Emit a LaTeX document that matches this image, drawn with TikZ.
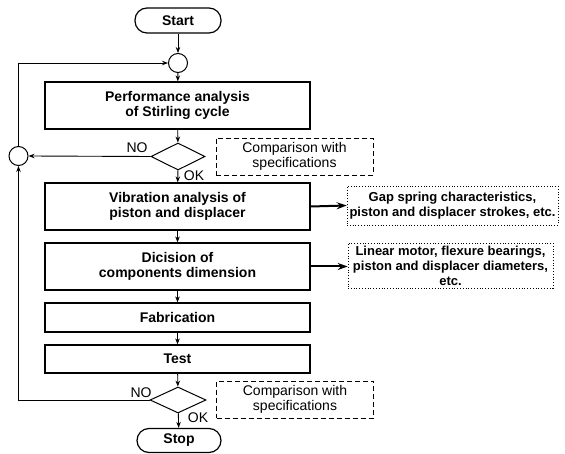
\documentclass[tikz,border=0pt]{standalone}
\usepackage{fontspec}
\setmainfont{Liberation Sans}
\usetikzlibrary{shapes.geometric,arrows.meta}
\begin{document}
\begin{tikzpicture}[x=1pt,y=-1pt,
  box/.style={draw, line width=1.2pt, minimum width=265pt, inner sep=0pt, align=center,
    font=\bfseries\fontsize{14}{15.5}\selectfont},
  term/.style={draw, line width=1.2pt, rounded corners=12pt, minimum width=86pt, minimum height=25pt,
    inner sep=0pt, font=\bfseries\fontsize{14}{15.5}\selectfont},
  junc/.style={draw, circle, line width=1pt, minimum size=19pt, inner sep=0pt},
  dec/.style={draw, diamond, line width=1pt, inner sep=0pt},
  cmp/.style={draw, dash pattern=on 5pt off 3pt, line width=0.9pt, minimum width=157pt, minimum height=37pt,
    inner sep=0pt, align=center, font=\fontsize{14}{15.5}\selectfont},
  note/.style={draw, line width=0.6pt, dash pattern=on 0.8pt off 2pt, inner sep=0pt, align=center,
    font=\bfseries\fontsize{13}{15}\selectfont},
  lbl/.style={font=\fontsize{14}{15}\selectfont, inner sep=0pt},
  flow/.style={-{Stealth[length=6pt,width=4.5pt]}, line width=0.9pt},
  big/.style={-{Stealth[length=10pt,width=7pt]}, line width=2pt}]
\useasboundingbox (0,0) rectangle (565,454);

\node[term] (start) at (178,20.5) {Start};
\node[junc] (c1) at (178,63) {};
\node[box, minimum height=47pt] (b1) at (177.5,105.5) {Performance analysis\\of Stirling cycle};
\node[dec, minimum width=54pt, minimum height=27pt] (d1) at (178,156.5) {};
\node[junc] (lc) at (18.5,156) {};
\node[cmp] (k1) at (294.5,156.5) {Comparison with\\specifications};
\node[lbl] at (137,148) {NO};
\node[lbl] at (194,176) {OK};
\node[box, minimum height=47pt] (b2) at (177.5,206.5) {Vibration analysis of\\piston and displacer};
\node[box, minimum height=47pt] (b3) at (177.5,266.5) {Dicision of\\components dimension};
\node[box, minimum height=29pt] (b4) at (177.5,317.5) {Fabrication};
\node[box, minimum height=28pt] (b5) at (177.5,359) {Test};
\node[dec, minimum width=56pt, minimum height=26pt] (d2) at (178,400) {};
\node[cmp] (k2) at (295,399.5) {Comparison with\\specifications};
\node[lbl] at (141,393) {NO};
\node[lbl] at (198,418) {OK};
\node[term, minimum width=84pt, minimum height=24pt] (stop) at (179,440.5) {Stop};
\node[note, minimum width=211pt, minimum height=39pt] (n1) at (452.5,205.5) {Gap spring characteristics,\\piston and displacer strokes, etc.};
\node[note, minimum width=205pt, minimum height=45pt] (n2) at (450.5,265.5) {Linear motor, flexure bearings,\\piston and displacer diameters,\\etc.};

\coordinate (t1) at (18.5,63);
\coordinate (t2) at (18.5,400);

\draw[flow] (start) -- (c1);
\draw[flow] (c1) -- (b1);
\draw[flow] (b1) -- (d1);
\draw[flow] (d1) -- (b2);
\draw[flow] (d1.west) -- (lc.east);
\draw[flow] (lc.north) -- (t1) -- (c1.west);
\draw[flow] (b2) -- (b3);
\draw[flow] (b3) -- (b4);
\draw[flow] (b4) -- (b5);
\draw[flow] (b5) -- (d2);
\draw[flow] (d2) -- (stop);
\draw[flow] (d2.west) -- (t2) -- (lc.south);
\draw[big] (b2.east) -- (n1.west);
\draw[big] (b3.east) -- (b3.east -| n2.west);
\end{tikzpicture}
\end{document}
